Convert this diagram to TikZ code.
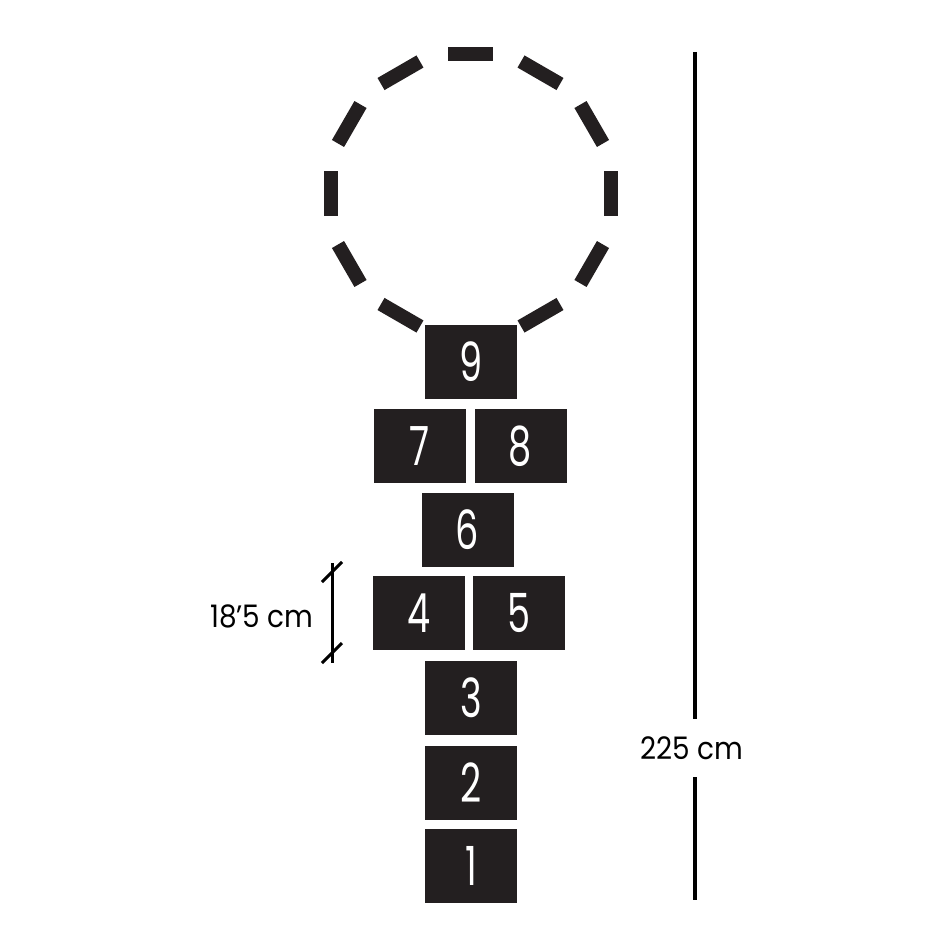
\documentclass[tikz,border=0pt]{standalone}
\usepackage{fontspec}
\setmainfont{Poppins}
\newfontfamily\chalkfont[FakeStretch=0.68]{Poppins}
\newfontfamily\labelfont[FakeStretch=0.9]{Poppins}
\usepackage{tikz}
\usetikzlibrary{positioning}
\definecolor{boardblack}{HTML}{231F20}

\tikzset{
  hopbox/.style={fill=boardblack,minimum width=46pt,minimum height=37pt,inner sep=0pt,
    text=white,font=\chalkfont\fontsize{27}{27}\selectfont},
  measure/.style={font=\labelfont\fontsize{15.5}{15.5}\selectfont,text=black,inner sep=0pt},
}

\begin{document}
\begin{tikzpicture}[line cap=butt,line join=miter,x=0.5pt,y=-0.5pt]
\useasboundingbox (0,0) rectangle (936,936);
% dashed ring
\foreach \a in {0,30,60,90,120,150,180,210,240,300,330}
\fill[boardblack,shift={(470.5,194)},rotate=\a] (133,-22.5) rectangle (147,22.5);
% squares
\node[hopbox] (b9) at (471,362) {9};
\node[hopbox] (b7) at (420,446) {7};
\node[hopbox] (b8) at (520.5,446) {8};
\node[hopbox] (b6) at (467.5,530) {6};
\node[hopbox] (b4) at (419,613) {4};
\node[hopbox] (b5) at (519,613) {5};
\node[hopbox] (b3) at (471,698) {3};
\node[hopbox] (b2) at (471,783) {2};
\node[hopbox] (b1) at (471,865.5) {1};
% height of one square
\coordinate (dtop) at (332,563);
\coordinate (dbot) at (332,663);
\coordinate (t1) at (332,572);
\coordinate (t2) at (332,653);
\draw[line width=1.5pt] (dtop) -- (dbot);
\draw[line width=1.5pt] (t1) ++(-10,10) -- ++(20,-20);
\draw[line width=1.5pt] (t2) ++(-10,10) -- ++(20,-20);
\node[measure,anchor=east] (short) at (314,616.5) {18’5 cm};
% full length
\coordinate (ltop) at (695,52);
\coordinate (lbot) at (695,900);
\node[measure,minimum height=29pt] (long) at (691.5,748) {225 cm};
\draw[line width=2pt] (ltop) -- (ltop |- long.north);
\draw[line width=2pt] (ltop |- long.south) -- (lbot);
\end{tikzpicture}
\end{document}
